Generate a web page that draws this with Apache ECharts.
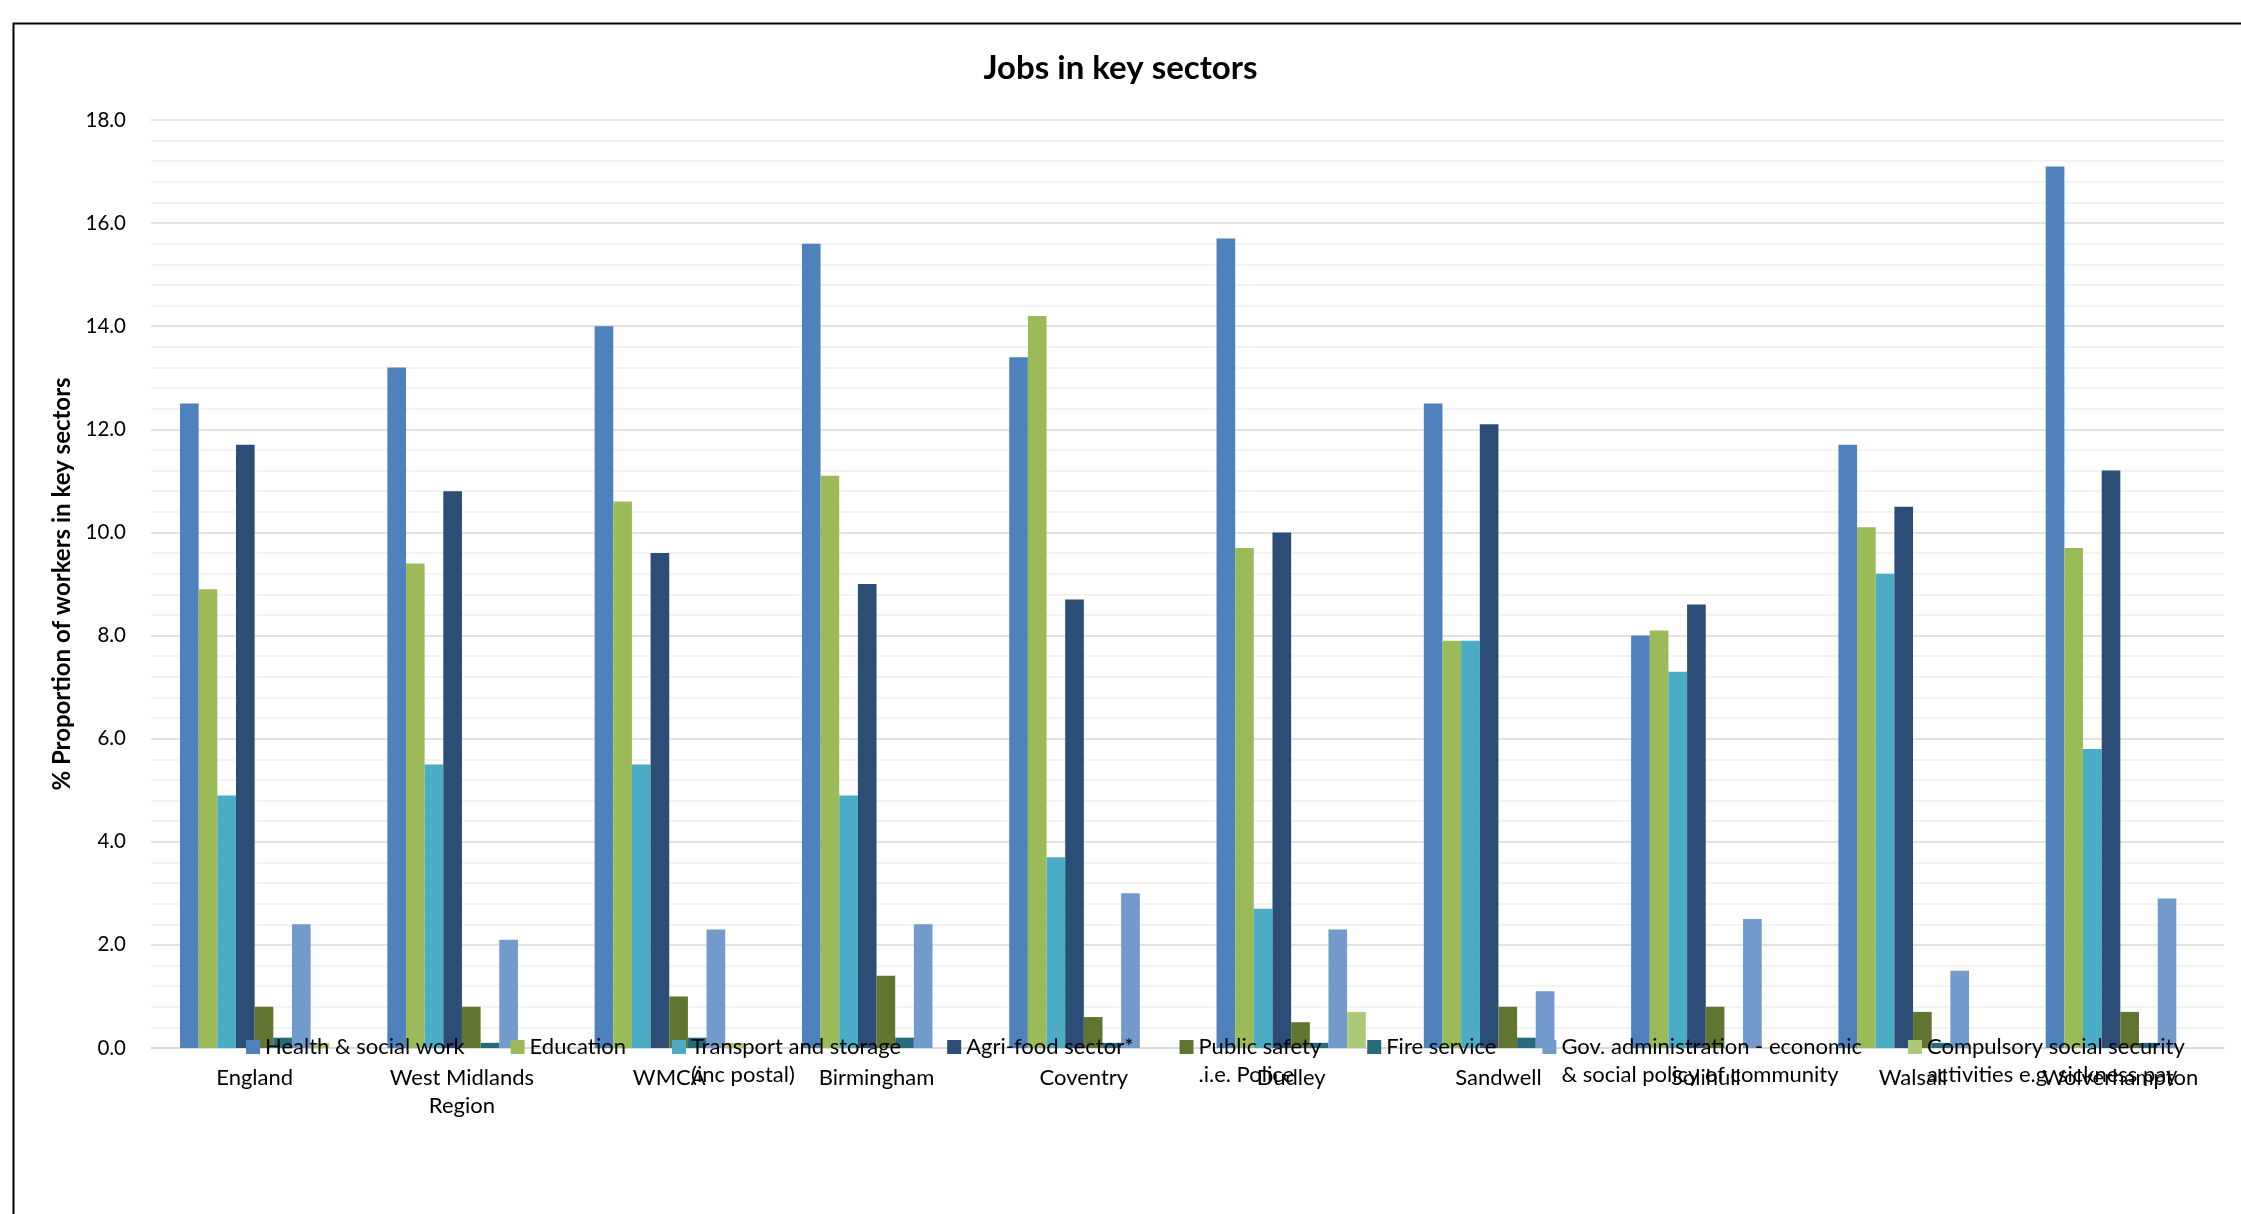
<!DOCTYPE html>
<html>
<head>
<meta charset="utf-8">
<script src="https://cdn.jsdelivr.net/npm/echarts@6/dist/echarts.min.js"></script>
<style>
  html, body { margin: 0; padding: 0; background: #fff; }
  #chart { width: 2241px; height: 1214px; }
</style>
</head>
<body>
<div id="chart"></div>
<script>
// Areas compared
const categories = ['England', 'West Midlands\nRegion', 'WMCA', 'Birmingham', 'Coventry',
  'Dudley', 'Sandwell', 'Solihull', 'Walsall', 'Wolverhampton'];

// Sector names (legend text, wrapped as in the chart)
const sectorNames = [
  'Health & social work',
  'Education',
  'Transport and storage\n(inc postal)',
  'Agri-food sector*',
  'Public safety\n.i.e. Police',
  'Fire service',
  'Gov. administration - economic\n& social policy of community',
  'Compulsory social security\nactivities e.g. sickness pay'
];

// % of workers in each sector, per area
const healthSocialWork = [12.5, 13.2, 14.0, 15.6, 13.4, 15.7, 12.5, 8.0, 11.7, 17.1];
const education        = [8.9, 9.4, 10.6, 11.1, 14.2, 9.7, 7.9, 8.1, 10.1, 9.7];
const transportStorage = [4.9, 5.5, 5.5, 4.9, 3.7, 2.7, 7.9, 7.3, 9.2, 5.8];
const agriFood         = [11.7, 10.8, 9.6, 9.0, 8.7, 10.0, 12.1, 8.6, 10.5, 11.2];
const publicSafety     = [0.8, 0.8, 1.0, 1.4, 0.6, 0.5, 0.8, 0.8, 0.7, 0.7];
const fireService      = [0.2, 0.1, 0.2, 0.2, 0.1, 0.1, 0.2, 0.0, 0.1, 0.1];
const govAdmin         = [2.4, 2.1, 2.3, 2.4, 3.0, 2.3, 1.1, 2.5, 1.5, 2.9];
const compulsorySocial = [0.1, 0.0, 0.1, 0.0, 0.0, 0.7, 0.0, 0.0, 0.0, 0.0];

const seriesValues = [healthSocialWork, education, transportStorage, agriFood,
  publicSafety, fireService, govAdmin, compulsorySocial];

const seriesColors = ['#4F81BD', '#9BBB59', '#4BACC6', '#2C4D75',
  '#5F7530', '#276A7C', '#729ACA', '#AFC97A'];

// y-axis ticks
const yMin = 0, yMax = 18, yStep = 2;

const FONT = 'Lato';
const LINE_H = 28;

const chart = echarts.init(document.getElementById('chart'), null, { renderer: 'canvas' });

chart.setOption({
  backgroundColor: '#ffffff',
  animation: false,
  color: seriesColors,
  title: {
    text: 'Jobs in key sectors',
    left: 'center',
    top: 47,
    textStyle: { fontFamily: FONT, fontSize: 33, fontWeight: 'bold', color: '#000' }
  },
  graphic: [{
    type: 'rect',
    left: 11, top: 21,
    shape: { width: 2400, height: 1400 },
    style: { fill: 'none', stroke: '#000', lineWidth: 2 },
    silent: true
  }],
  legend: {
    data: sectorNames,
    left: 246,
    top: 1005,
    padding: 0,
    itemGap: 46,
    itemWidth: 14,
    itemHeight: 14,
    icon: 'rect',
    // wrapped names keep their first line level with the colour key
    formatter: function (name) {
      return name.indexOf('\n') >= 0 ? ' \n' + name : name;
    },
    textStyle: { fontFamily: FONT, fontSize: 22, color: '#000', lineHeight: LINE_H }
  },
  grid: { left: 151, right: 17, top: 120, bottom: 166, containLabel: false },
  xAxis: {
    type: 'category',
    data: categories,
    axisLine: { show: true, lineStyle: { color: '#d9d9d9', width: 1.5 } },
    axisTick: { show: false },
    axisLabel: {
      fontFamily: FONT, fontSize: 22, color: '#000', lineHeight: LINE_H,
      margin: 16, interval: 0
    }
  },
  yAxis: {
    type: 'value',
    min: yMin, max: yMax, interval: yStep,
    name: '% Proportion of workers in key sectors',
    nameLocation: 'middle',
    nameRotate: 90,
    nameGap: 76,
    nameTextStyle: { fontFamily: FONT, fontSize: 24, fontWeight: 'bold', color: '#000' },
    axisLine: { show: false },
    axisTick: { show: false },
    axisLabel: {
      fontFamily: FONT, fontSize: 20.5, color: '#000', margin: 25,
      formatter: function (v) { return v.toFixed(1); }
    },
    splitLine: { show: true, lineStyle: { color: '#d9d9d9', width: 1.5 } },
    minorTick: { show: false, splitNumber: 5 },
    minorSplitLine: { show: true, lineStyle: { color: '#f0f0f0', width: 1.5 } }
  },
  series: seriesValues.map(function (vals, i) {
    return {
      name: sectorNames[i],
      type: 'bar',
      data: vals,
      barGap: '0%',
      barCategoryGap: '28%',
      itemStyle: { color: seriesColors[i] }
    };
  })
});
</script>
</body>
</html>
